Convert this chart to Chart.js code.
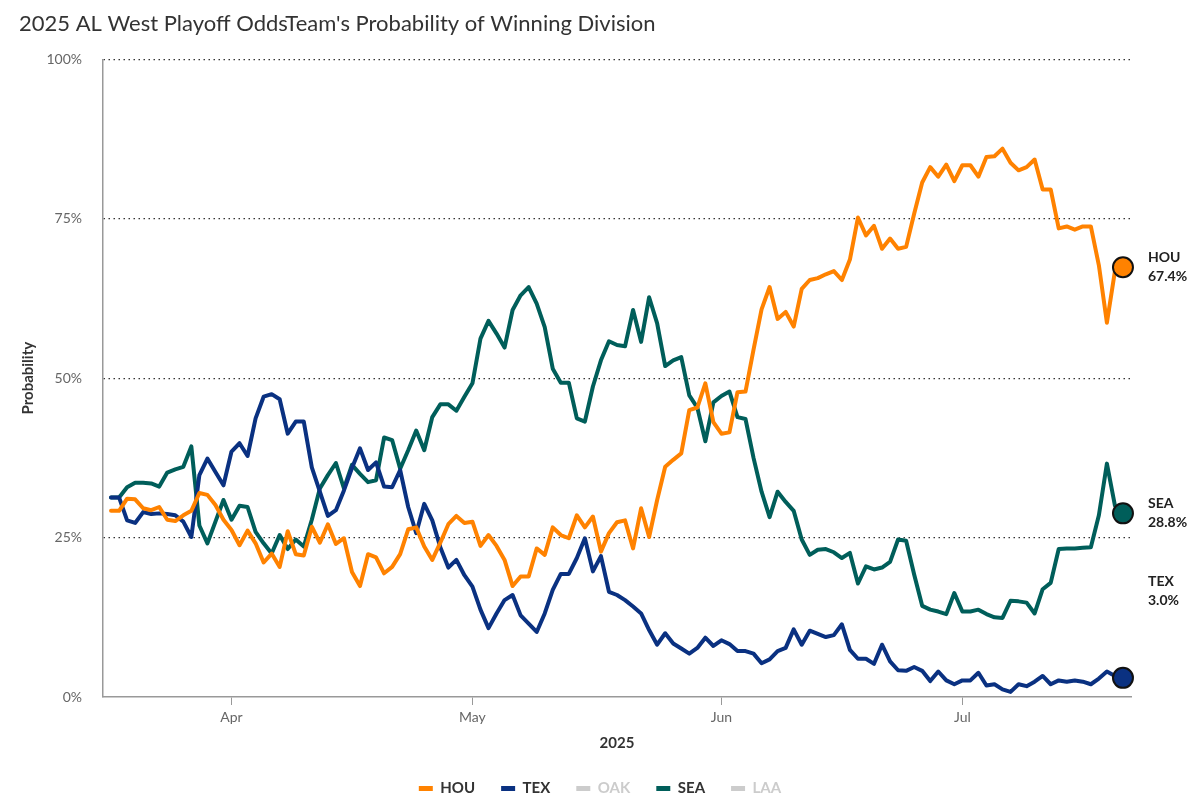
<!DOCTYPE html>
<html>
<head>
<meta charset="utf-8">
<script src="https://cdn.jsdelivr.net/npm/chart.js@4.4.1/dist/chart.umd.min.js"></script>
<style>
  html, body { margin: 0; padding: 0; background: #ffffff; }
  #wrap { width: 1200px; height: 800px; position: relative; }
</style>
</head>
<body>
<div id="wrap"><canvas id="chart"></canvas></div>
<script>
// ---------------- DATA ----------------
const chartTitle = "2025 AL West Playoff OddsTeam's Probability of Winning Division";
const startDate = '2025-03-17';
const endDate = '2025-07-21';
const teams = ['HOU', 'TEX', 'OAK', 'SEA', 'LAA'];

const houValues = [
  29.2, 29.2, 31.1, 31.0, 29.6, 29.3, 29.8, 27.8, 27.6, 28.5, 29.2, 32.0, 31.7, 30.1, 27.8, 26.2,
  23.8, 26.1, 24.1, 21.1, 22.5, 20.4, 26.0, 22.4, 22.2, 26.7, 24.2, 27.1, 24.0, 24.9, 19.6, 17.4,
  22.4, 21.9, 19.4, 20.4,
  22.4, 26.3, 26.6, 23.6, 21.5, 24.2, 27.1, 28.4, 27.3, 27.5, 23.7, 25.4, 23.7, 21.5, 17.4, 18.9,
  18.9, 23.3, 22.3, 26.6, 25.4, 24.9, 28.5, 26.6, 28.3, 22.8, 25.7, 27.4, 27.7, 23.3, 29.6, 25.1,
  30.9, 36.1, 37.2, 38.2, 45.0,
  45.4, 49.2, 43.1, 41.3, 41.5, 47.8, 47.9, 54.5, 60.8, 64.3, 59.3, 60.4, 58.1, 64.0, 65.4, 65.7,
  66.3, 66.8, 65.4, 68.6, 75.2, 72.4, 73.9,
  70.3, 71.9, 70.3, 70.6, 75.8, 80.7, 83.1, 81.6, 83.5, 80.9, 83.4, 83.4, 81.6, 84.7, 84.8, 86.0,
  83.8, 82.6, 83.1, 84.3, 79.6, 79.6, 73.5, 73.8, 73.3, 73.8, 73.8, 67.7, 58.7, 66.8, 67.4
];
const texValues = [
  31.3, 31.3, 27.7, 27.3, 29.0, 28.7, 28.8, 28.7, 28.5, 27.5, 25.1, 34.8, 37.4, 35.3, 33.2, 38.5,
  39.8, 37.8, 43.7, 47.1, 47.5, 46.7, 41.3, 43.2, 43.2, 36.0, 32.2, 28.4, 29.3, 32.4, 35.9, 39.0,
  35.6, 36.8, 33.0, 32.9,
  35.6, 29.8, 25.7, 30.3, 27.7, 23.5, 20.3, 21.5, 19.1, 17.3, 13.7, 10.8, 13.1, 15.2, 16.0, 12.8,
  11.5, 10.2, 13.1, 16.8, 19.3, 19.3, 21.8, 24.9, 19.7, 22.1, 16.5, 16.0, 15.2, 14.2, 13.1, 10.5,
  8.2, 10.0, 8.4, 7.6, 6.8,
  7.7, 9.3, 8.0, 8.9, 8.3, 7.2, 7.2, 6.8, 5.3, 5.9, 7.2, 7.7, 10.6, 8.2, 10.4, 9.9,
  9.4, 9.7, 11.4, 7.4, 6.0, 6.0, 5.2,
  8.2, 5.6, 4.2, 4.1, 4.7, 4.1, 2.5, 4.0, 2.6, 2.0, 2.6, 2.6, 3.8, 1.8, 2.0, 1.2,
  0.8, 2.0, 1.7, 2.4, 3.3, 2.0, 2.6, 2.4, 2.6, 2.4, 2.0, 2.9, 4.0, 3.3, 3.0
];
const seaValues = [
  31.3, 31.3, 32.9, 33.6, 33.6, 33.5, 33.0, 35.2, 35.7, 36.1, 39.3, 26.9, 24.1, 27.5, 30.9, 27.8,
  30.0, 29.8, 25.9, 24.1, 22.5, 25.4, 23.2, 24.7, 23.6, 27.8, 32.7, 34.8, 36.7, 32.7, 36.4, 35.0,
  33.7, 34.0, 40.7, 40.3,
  35.8, 38.7, 41.8, 38.7, 43.9, 45.9, 45.9, 44.9, 47.1, 49.2, 56.2, 59.0, 57.0, 54.8, 60.7, 63.0,
  64.3, 61.7, 58.0, 51.5, 49.3, 49.3, 43.7, 43.2, 48.7, 52.8, 55.8, 55.2, 55.0, 60.7, 55.7, 62.7,
  58.6, 51.9, 52.8, 53.3, 47.3,
  45.4, 40.1, 46.2, 47.2, 47.9, 43.9, 43.6, 37.5, 32.2, 28.2, 32.2, 30.6, 29.2, 24.7, 22.3, 23.1,
  23.2, 22.7, 21.8, 22.6, 17.8, 20.5, 20.0,
  20.3, 21.2, 24.7, 24.5, 19.2, 14.3, 13.7, 13.4, 13.0, 16.3, 13.4, 13.4, 13.7, 13.0, 12.5, 12.4,
  15.1, 15.0, 14.8, 13.1, 16.9, 17.9, 23.2, 23.3, 23.3, 23.4, 23.5, 28.5, 36.6, 30.0, 28.8
];
const oakValues = [];
const laaValues = [];

const monthTickLabels = ['Apr', 'May', 'Jun', 'Jul'];
const monthTickDates = ['2025-04-01', '2025-05-01', '2025-06-01', '2025-07-01'];
const yTickValues = [0, 25, 50, 75, 100];
const xAxisTitle = '2025';
const yAxisTitle = 'Probability';

// ---------------- HELPERS ----------------
const DAY = 86400000;
function dayNum(iso) {
  const [y, m, d] = iso.split('-').map(Number);
  return Math.round((Date.UTC(y, m - 1, d) - Date.UTC(2025, 0, 1)) / DAY);
}
const dayNums = [];
for (let d = dayNum(startDate); d <= dayNum(endDate); d++) dayNums.push(d);
function toPoints(vals) { return vals.map((v, i) => ({ x: dayNums[i], y: v })); }

const colors = { HOU: '#FF8200', TEX: '#0A3181', OAK: '#cccccc', SEA: '#005E5A', LAA: '#cccccc' };
const valueSets = { HOU: houValues, TEX: texValues, OAK: oakValues, SEA: seaValues, LAA: laaValues };
const FONT = 'Lato, "Noto Sans", sans-serif';

const datasets = teams.map(t => {
  const vals = valueSets[t];
  const c = colors[t];
  return {
    label: t,
    data: toPoints(vals),
    borderColor: c,
    backgroundColor: c,
    borderWidth: 4,
    tension: 0,
    clip: false,
    pointRadius: ctx => (ctx.dataIndex === vals.length - 1 ? 10 : 0),
    pointHoverRadius: ctx => (ctx.dataIndex === vals.length - 1 ? 10 : 0),
    pointBackgroundColor: c,
    pointBorderColor: '#111111',
    pointBorderWidth: 2,
    borderJoinStyle: 'round',
    borderCapStyle: 'round'
  };
});

const endLabels = {
  id: 'endLabels',
  afterDatasetsDraw(chart, args, opts) {
    const ctx = chart.ctx;
    chart.data.datasets.forEach((ds, i) => {
      if (!ds.data.length) return;
      const meta = chart.getDatasetMeta(i);
      const el = meta.data[meta.data.length - 1];
      const lastVal = ds.data[ds.data.length - 1].y;
      const y = el.y + (opts.offsets[ds.label] || 0);
      const x = chart.chartArea.right + opts.gap;
      ctx.save();
      ctx.font = 'bold 14px ' + FONT;
      ctx.fillStyle = '#222222';
      ctx.textAlign = 'left';
      ctx.textBaseline = 'middle';
      ctx.fillText(ds.label, x, y - 9.5);
      ctx.fillText(lastVal.toFixed(1) + '%', x, y + 9.5);
      ctx.restore();
    });
  }
};

new Chart(document.getElementById('chart'), {
  type: 'line',
  data: { datasets },
  plugins: [endLabels],
  options: {
    responsive: true,
    maintainAspectRatio: false,
    animation: false,
    layout: { padding: { left: 19, right: 19, top: 0, bottom: -6 } },
    plugins: {
      title: {
        display: true,
        text: chartTitle,
        align: 'start',
        color: '#333333',
        font: { family: FONT, size: 22, weight: 'normal' },
        padding: { top: 11, bottom: 22 }
      },
      legend: {
        position: 'bottom',
        onClick: null,
        labels: {
          boxWidth: 14,
          boxHeight: 5,
          padding: 26,
          font: { family: FONT, size: 15, weight: 'bold' },
          generateLabels(chart) {
            return chart.data.datasets.map((ds, i) => {
              const active = ds.data.length > 0;
              return {
                text: ds.label,
                fillStyle: ds.borderColor,
                strokeStyle: ds.borderColor,
                lineWidth: 0,
                fontColor: active ? '#333333' : '#cccccc',
                hidden: false,
                datasetIndex: i
              };
            });
          }
        }
      },
      tooltip: { enabled: false },
      endLabels: { gap: 17, offsets: { TEX: -87 } }
    },
    scales: {
      x: {
        type: 'linear',
        min: dayNum(startDate) - 1,
        max: dayNum(endDate) + 1,
        afterBuildTicks(scale) {
          scale.ticks = monthTickDates.map(d => ({ value: dayNum(d) }));
        },
        afterFit(scale) { scale.height = 58; },
        ticks: {
          autoSkip: false,
          maxRotation: 0,
          padding: 4,
          color: '#666666',
          font: { family: FONT, size: 14 },
          callback(v) {
            const idx = monthTickDates.findIndex(d => dayNum(d) === v);
            return idx >= 0 ? monthTickLabels[idx] : '';
          }
        },
        grid: { display: true, drawOnChartArea: false, drawTicks: true, tickLength: 8, color: '#999999', lineWidth: 1 },
        border: { display: true, color: '#999999', width: 1.5 },
        title: {
          display: true,
          text: xAxisTitle,
          color: '#333333',
          font: { family: FONT, size: 15, weight: 'bold' },
          padding: { top: 4, bottom: 3 }
        }
      },
      y: {
        type: 'linear',
        min: 0,
        max: 100,
        afterBuildTicks(scale) {
          scale.ticks = yTickValues.map(v => ({ value: v }));
        },
        afterFit(scale) { scale.width = 84; },
        ticks: {
          padding: 21,
          color: '#666666',
          font: { family: FONT, size: 14 },
          callback: v => v + '%'
        },
        grid: {
          drawTicks: false,
          lineWidth: 1.2,
          color: ctx => (ctx.tick && ctx.tick.value === 0 ? 'rgba(0,0,0,0)' : '#333333')
        },
        border: { display: true, color: '#999999', width: 1.5, dash: [1.5, 3.5] },
        title: {
          display: true,
          text: yAxisTitle,
          color: '#333333',
          font: { family: FONT, size: 15, weight: 'bold' },
          padding: { top: 0, bottom: 0 }
        }
      },
      yRightSpace: {
        type: 'linear',
        position: 'right',
        display: true,
        afterFit(scale) { scale.width = 50; },
        ticks: { display: false },
        grid: { display: false, drawTicks: false },
        border: { display: false },
        title: { display: false }
      }
    }
  }
});
</script>
</body>
</html>
